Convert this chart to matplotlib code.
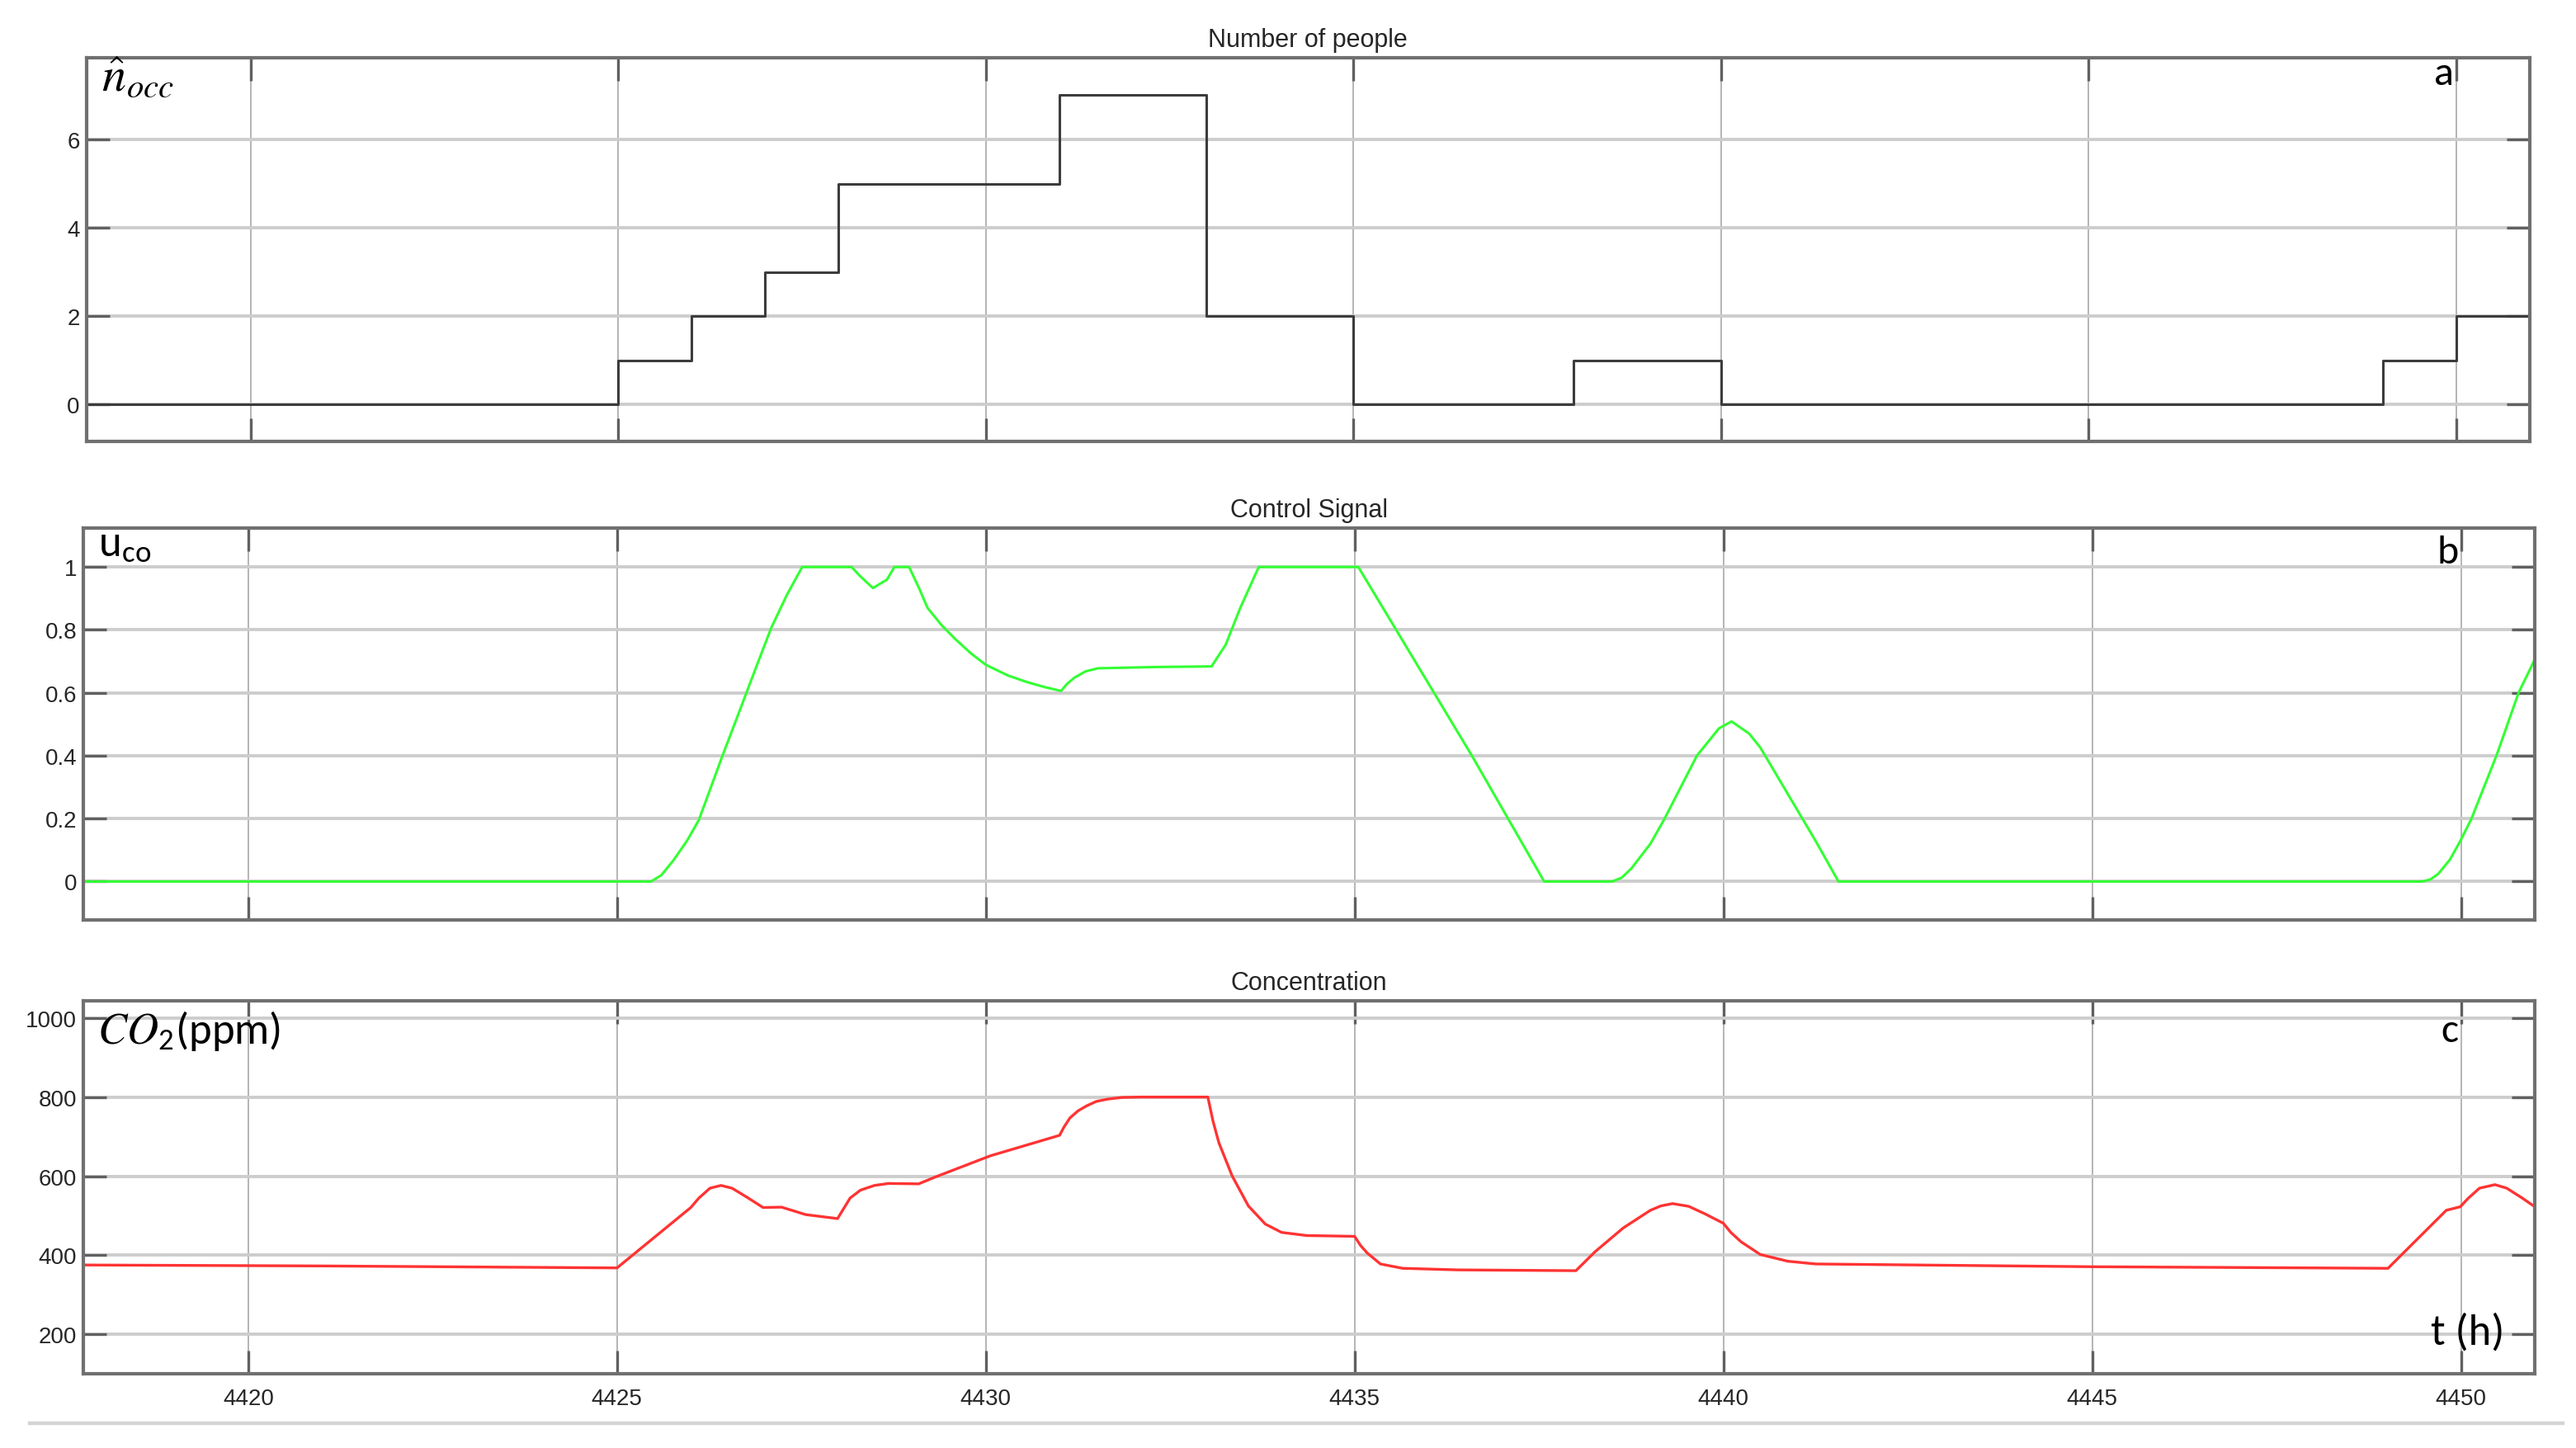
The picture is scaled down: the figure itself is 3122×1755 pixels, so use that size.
import matplotlib
matplotlib.use('Agg')
import matplotlib.pyplot as plt
from matplotlib import font_manager
from matplotlib.lines import Line2D

# time axis (hours)
x_min, x_max = 4417.77, 4451.0
x_ticks = [4420, 4425, 4430, 4435, 4440, 4445, 4450]

# a: number of people (step changes)
occ_t = [4417.0, 4425, 4426, 4427, 4428, 4431, 4433, 4435, 4438, 4440, 4449, 4450, 4451.5]
occ_n = [0, 1, 2, 3, 5, 7, 2, 0, 1, 0, 1, 2, 2]

# b: control signal
ctrl_t = [4417.0, 4425.46, 4425.6, 4425.76, 4425.95, 4426.11, 4426.43, 4426.69, 4426.9,
          4427.09, 4427.3, 4427.51,
          4428.18, 4428.3, 4428.47, 4428.66, 4428.76, 4428.96, 4429.1, 4429.21, 4429.4,
          4429.59, 4429.8, 4430.0, 4430.3, 4430.56, 4430.8, 4431.02, 4431.1, 4431.2, 4431.35,
          4431.52, 4432.3, 4433.06, 4433.25, 4433.45, 4433.7, 4435.05, 4436.59, 4437.57,
          4438.49, 4438.62, 4438.75, 4439.01, 4439.2, 4439.64, 4439.94, 4440.11, 4440.35,
          4440.5, 4441.25, 4441.56, 4449.47, 4449.58, 4449.69, 4449.85, 4449.99, 4450.14,
          4450.48, 4450.78, 4451.0]
ctrl_u = [0, 0, 0.02, 0.066, 0.13, 0.196, 0.40, 0.56, 0.69,
          0.806, 0.91, 1.0,
          1.0, 0.97, 0.933, 0.96, 1.0, 1.0, 0.93, 0.87, 0.815,
          0.77, 0.725, 0.689, 0.655, 0.634, 0.618, 0.606, 0.628, 0.648, 0.668,
          0.678, 0.682, 0.684, 0.752, 0.87, 1.0, 1.0, 0.40, 0.0,
          0.0, 0.012, 0.041, 0.12, 0.199, 0.40, 0.487, 0.509, 0.47,
          0.426, 0.129, 0.0, 0.0, 0.006, 0.024, 0.07, 0.129, 0.199,
          0.40, 0.60, 0.706]

# c: CO2 concentration (ppm)
co2_t = [4417.0, 4421.0, 4425.0, 4426.0, 4426.11, 4426.26, 4426.41, 4426.56, 4426.78,
         4426.98, 4427.23, 4427.56, 4427.99, 4428.16, 4428.3, 4428.49, 4428.68, 4429.09,
         4429.31, 4430.06, 4431.0, 4431.06, 4431.14, 4431.25, 4431.37, 4431.5, 4431.66,
         4431.85, 4432.11, 4433.01, 4433.08, 4433.16, 4433.34, 4433.56, 4433.79, 4434.01,
         4434.35, 4435.0, 4435.08, 4435.17, 4435.35, 4435.65, 4436.4, 4438.0, 4438.26,
         4438.64, 4439.01, 4439.15, 4439.31, 4439.53, 4439.75, 4440.0, 4440.1, 4440.24,
         4440.5, 4440.87, 4441.25, 4445.0, 4449.01, 4449.8, 4449.99, 4450.1, 4450.25,
         4450.46, 4450.62, 4450.83, 4451.0]
co2_v = [376, 373, 368, 521, 545, 570, 577, 570, 545,
         521, 522, 503, 493, 545, 565, 577, 582, 581,
         598, 652, 704, 725, 748, 766, 779, 790, 796,
         800, 801, 801, 740, 685, 601, 525, 479, 458,
         450, 448, 425, 406, 378, 367, 363, 361, 409,
         469, 514, 525, 531, 524, 505, 481, 458, 434,
         402, 385, 378, 371, 367, 514, 523, 545, 570,
         579, 570, 545, 523]

names = {f.name for f in font_manager.fontManager.ttflist}


def pick(*cands):
    for c in cands:
        if c in names:
            return c
    return 'DejaVu Sans'


tick_font = pick('Liberation Sans Narrow', 'Liberation Sans')
label_font = pick('Carlito', 'Lato', 'Open Sans')

plt.rcParams['font.family'] = [tick_font, 'DejaVu Sans']
plt.rcParams['mathtext.fontset'] = 'custom'
plt.rcParams['mathtext.rm'] = label_font
plt.rcParams['mathtext.it'] = 'STIXGeneral:italic'

fig = plt.figure(figsize=(15.61, 8.78), dpi=200)
ax_a = fig.add_axes([0.0336, 0.6948, 0.9484, 0.2648])
ax_b = fig.add_axes([0.0325, 0.3645, 0.9515, 0.2705])
ax_c = fig.add_axes([0.0325, 0.0513, 0.9515, 0.2574])


def style(ax, yticks, ylabels, ylim, title, show_x):
    ax.set_xlim(x_min, x_max)
    ax.set_ylim(*ylim)
    ax.set_xticks(x_ticks)
    ax.set_yticks(yticks)
    ax.set_yticklabels(ylabels)
    ax.yaxis.grid(True, color='#cdcdcd', lw=1.4)
    ax.xaxis.grid(True, color='#a8a8a8', lw=0.6)
    ax.set_axisbelow(True)
    ax.tick_params(direction='in', top=True, right=True, length=10, width=1.2,
                   color='#606060', labelsize=10, labelcolor='#262626', pad=3)
    for sp in ax.spines.values():
        sp.set_color('#707070')
        sp.set_linewidth(1.5)
    if not show_x:
        ax.set_xticklabels([])
    else:
        ax.tick_params(axis='x', pad=6)
    ax.set_title(title, fontsize=11, pad=5, color='#262626')


ax_a.plot(occ_t, occ_n, drawstyle='steps-post', color='#3c3c3c', lw=1.1)
style(ax_a, [0, 2, 4, 6], ['0', '2', '4', '6'], (-0.83, 7.85), 'Number of people', False)

ax_b.plot(ctrl_t, ctrl_u, color='#33ff33', lw=1.1)
style(ax_b, [0, 0.2, 0.4, 0.6, 0.8, 1.0], ['0', '0.2', '0.4', '0.6', '0.8', '1'],
      (-0.122, 1.124), 'Control Signal', False)

ax_c.plot(co2_t, co2_v, color='#ff3333', lw=1.2)
style(ax_c, [200, 400, 600, 800, 1000], ['200', '400', '600', '800', '1000'],
      (100, 1045), 'Concentration', True)

# panel annotations
ax_a.text(0.006, 1.005, r'$\hat{n}_{occ}$', transform=ax_a.transAxes, fontsize=21,
          ha='left', va='top', color='black')
ax_a.text(4449.97, 0.93, 'a', transform=ax_a.get_xaxis_transform(), fontsize=18,
          family=label_font, ha='right', va='baseline')

ax_b.text(0.0058, 0.929, r'u$_{\mathrm{co}}$', transform=ax_b.transAxes, fontsize=19,
          family=label_font, ha='left', va='baseline')
ax_b.text(4449.97, 0.912, 'b', transform=ax_b.get_xaxis_transform(), fontsize=18,
          family=label_font, ha='right', va='baseline')

ax_c.text(0.0055, 0.888, r'$CO_2$(ppm)', transform=ax_c.transAxes, fontsize=19,
          family=label_font, ha='left', va='baseline')
ax_c.text(4449.97, 0.892, 'c', transform=ax_c.get_xaxis_transform(), fontsize=18,
          family=label_font, ha='right', va='baseline')
ax_c.text(0.9875, 0.08, 't (h)', transform=ax_c.transAxes, fontsize=19,
          family=label_font, ha='right', va='baseline')

fig.add_artist(Line2D([36 / 3122, 3106 / 3122], [1 - 1726 / 1756] * 2,
                      color='#d4d4d4', lw=1.6))

fig.savefig('out.png', dpi=200, facecolor='white')
